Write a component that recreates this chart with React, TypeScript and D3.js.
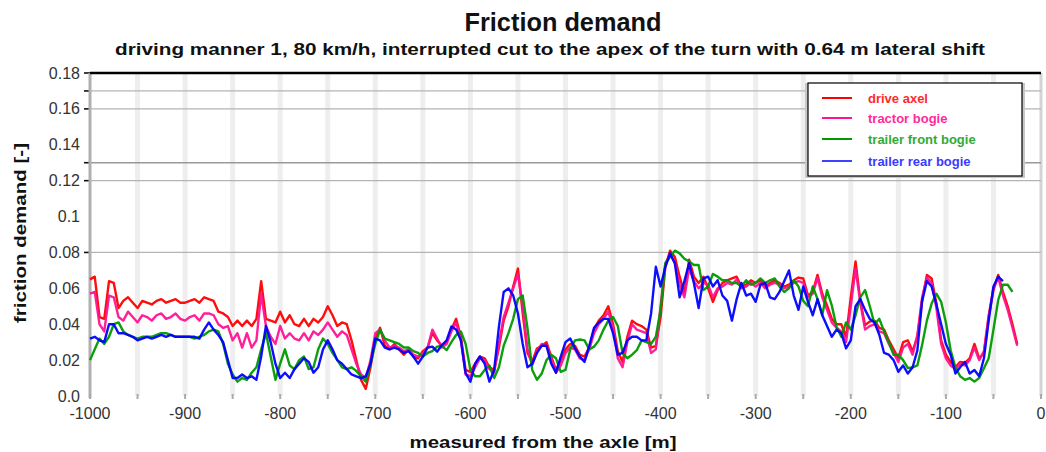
import React from "react";
import * as d3 from "d3";

const distance: number[] = d3.range(-1000, -20, 5);

const driveAxel: number[] = [
  0.065, 0.0665, 0.044, 0.043, 0.064, 0.063, 0.049, 0.053, 0.055, 0.052,
  0.049, 0.053, 0.052, 0.051, 0.053, 0.054, 0.052, 0.053, 0.054, 0.052,
  0.052, 0.053, 0.054, 0.052, 0.055, 0.054, 0.053, 0.047, 0.046, 0.044,
  0.039, 0.042, 0.039, 0.042, 0.039, 0.043, 0.064, 0.043, 0.042, 0.041,
  0.047, 0.041, 0.045, 0.040, 0.039, 0.043, 0.039, 0.043, 0.041, 0.044,
  0.050, 0.045, 0.039, 0.041, 0.040, 0.031, 0.020, 0.009, 0.004, 0.016,
  0.032, 0.038, 0.028, 0.026, 0.029, 0.026, 0.023, 0.026, 0.022, 0.021,
  0.025, 0.027,
  0.035, 0.031, 0.028, 0.030, 0.037, 0.043, 0.033, 0.0145, 0.0135, 0.018,
  0.022, 0.021, 0.016, 0.0145, 0.027, 0.042, 0.050, 0.061, 0.071, 0.046,
  0.024, 0.019, 0.0265, 0.028, 0.030, 0.022, 0.0145, 0.019, 0.026, 0.029,
  0.028, 0.023, 0.022, 0.027, 0.037, 0.042, 0.045, 0.050, 0.040, 0.025,
  0.019, 0.033, 0.042, 0.040, 0.039, 0.037, 0.027, 0.028, 0.044, 0.072,
  0.081, 0.0775, 0.0665, 0.057, 0.076, 0.0665, 0.063, 0.0665, 0.060, 0.0525,
  0.059, 0.063, 0.0645, 0.0655, 0.0665, 0.061, 0.062, 0.0645, 0.063,
  0.0645, 0.061, 0.063, 0.0645, 0.063, 0.061, 0.062, 0.0645, 0.066, 0.0655,
  0.056, 0.058, 0.0675, 0.057, 0.0505, 0.043, 0.040, 0.040, 0.033, 0.055,
  0.075, 0.053, 0.0395, 0.0415, 0.042, 0.038, 0.037, 0.031, 0.026, 0.021,
  0.030, 0.031, 0.025, 0.033, 0.053, 0.0675, 0.0655, 0.0515, 0.031, 0.023,
  0.019, 0.016, 0.019, 0.0185, 0.021, 0.029, 0.021, 0.024, 0.044, 0.059,
  0.0675, 0.058, 0.050, 0.040, 0.029,
];

const tractorBogie: number[] = [
  0.057, 0.058, 0.040, 0.036, 0.056, 0.055, 0.044, 0.042, 0.047, 0.044,
  0.041, 0.045, 0.044, 0.042, 0.045, 0.046, 0.043, 0.044, 0.046, 0.043,
  0.042, 0.044, 0.045, 0.042, 0.046, 0.046, 0.045, 0.040, 0.038, 0.039,
  0.031, 0.035, 0.027, 0.035, 0.027, 0.031, 0.057, 0.039, 0.033, 0.029,
  0.039, 0.032, 0.035, 0.032, 0.031, 0.035, 0.031, 0.036, 0.034, 0.037,
  0.041, 0.037, 0.033, 0.036, 0.034, 0.026, 0.018, 0.012, 0.010, 0.020,
  0.035, 0.037, 0.031, 0.027, 0.028, 0.027, 0.025, 0.026, 0.023, 0.022,
  0.024, 0.027,
  0.037, 0.032, 0.027, 0.029, 0.036, 0.041, 0.031, 0.012, 0.011, 0.016,
  0.021, 0.020, 0.015, 0.013, 0.029, 0.044, 0.052, 0.060, 0.068, 0.050,
  0.026, 0.017, 0.025, 0.029, 0.028, 0.021, 0.013, 0.017, 0.024, 0.027,
  0.026, 0.021, 0.020, 0.026, 0.035, 0.040, 0.043, 0.047, 0.038, 0.021,
  0.016, 0.030, 0.040, 0.037, 0.036, 0.035, 0.024, 0.026, 0.050, 0.074,
  0.079, 0.074, 0.062, 0.055, 0.071, 0.064, 0.060, 0.063, 0.062, 0.055,
  0.060, 0.061, 0.063, 0.062, 0.065, 0.060, 0.061, 0.063, 0.061,
  0.063, 0.060, 0.062, 0.063, 0.062, 0.060, 0.061, 0.063, 0.064, 0.063,
  0.055, 0.057, 0.066, 0.055, 0.048, 0.041, 0.038, 0.036, 0.030, 0.050,
  0.071, 0.052, 0.037, 0.039, 0.040, 0.036, 0.035, 0.029, 0.024, 0.019,
  0.027, 0.029, 0.023, 0.034, 0.055, 0.066, 0.063, 0.049, 0.029, 0.021,
  0.017, 0.015, 0.018, 0.017, 0.020, 0.027, 0.020, 0.025, 0.045, 0.060,
  0.066, 0.056, 0.048, 0.038, 0.028,
];

const trailerFrontBogie: number[] = [
  0.020, 0.026, 0.032, 0.029, 0.033, 0.040, 0.041, 0.036, 0.034, 0.033,
  0.032, 0.033, 0.033, 0.033, 0.034, 0.035, 0.035, 0.034, 0.033, 0.033,
  0.033, 0.033, 0.032, 0.033, 0.034, 0.036, 0.037, 0.036, 0.029, 0.018,
  0.012, 0.008, 0.010, 0.009, 0.013, 0.016, 0.026, 0.035, 0.022, 0.009,
  0.018, 0.026, 0.017, 0.015, 0.020, 0.022, 0.015, 0.016, 0.026, 0.032,
  0.029, 0.024, 0.020, 0.016, 0.015, 0.016, 0.014, 0.011, 0.008, 0.018,
  0.029, 0.037, 0.032, 0.031, 0.030, 0.029, 0.027, 0.027, 0.025, 0.024,
  0.022, 0.024,
  0.025, 0.0275, 0.028, 0.0255, 0.030, 0.034, 0.036, 0.029, 0.0145, 0.011,
  0.011, 0.0145, 0.017, 0.010, 0.016, 0.028, 0.035, 0.043, 0.054, 0.056,
  0.038, 0.0145, 0.009, 0.0125, 0.020, 0.023, 0.021, 0.0135, 0.0145, 0.026,
  0.031, 0.0315, 0.031, 0.026, 0.0275, 0.031, 0.037, 0.042, 0.044, 0.039,
  0.024, 0.021, 0.023, 0.0255, 0.031, 0.030, 0.029, 0.033, 0.048, 0.074,
  0.0775, 0.081, 0.0795, 0.0765, 0.075, 0.073, 0.073, 0.059, 0.061, 0.068,
  0.0665, 0.0645, 0.0645, 0.063, 0.063, 0.061, 0.0645, 0.062, 0.063,
  0.0655, 0.063, 0.0645, 0.0655, 0.061, 0.058, 0.060, 0.0645, 0.061, 0.053,
  0.050, 0.061, 0.054, 0.045, 0.059, 0.0505, 0.0385, 0.033, 0.041, 0.037,
  0.045, 0.055, 0.059, 0.050, 0.040, 0.043, 0.036, 0.030, 0.023, 0.023,
  0.020, 0.0155, 0.016, 0.017, 0.0285, 0.042, 0.0515, 0.057, 0.0525, 0.041,
  0.0255, 0.016, 0.011, 0.009, 0.010, 0.008, 0.010, 0.0155, 0.021, 0.037,
  0.0535, 0.062, 0.062, 0.058,
];

const trailerRearBogie: number[] = [
  0.032, 0.033, 0.031, 0.030, 0.040, 0.040, 0.035, 0.035, 0.034, 0.033,
  0.031, 0.032, 0.033, 0.032, 0.033, 0.034, 0.033, 0.034, 0.033, 0.033,
  0.033, 0.033, 0.033, 0.032, 0.037, 0.041, 0.037, 0.034, 0.030, 0.020,
  0.010, 0.010, 0.012, 0.010, 0.011, 0.009, 0.022, 0.039, 0.030, 0.018,
  0.010, 0.013, 0.010, 0.015, 0.018, 0.021, 0.019, 0.013, 0.016, 0.026,
  0.031, 0.026, 0.020, 0.018, 0.015, 0.012, 0.011, 0.010, 0.011, 0.018,
  0.032, 0.031, 0.027, 0.026, 0.027, 0.026, 0.024, 0.025, 0.022, 0.018,
  0.022, 0.027,
  0.0275, 0.0247, 0.0284, 0.031, 0.0387, 0.037, 0.031, 0.0127, 0.008, 0.018,
  0.022, 0.018, 0.008, 0.0145, 0.0387, 0.058, 0.060, 0.056, 0.046, 0.029,
  0.016, 0.018, 0.024, 0.028, 0.028, 0.018, 0.013, 0.022, 0.030, 0.032,
  0.0265, 0.022, 0.019, 0.028, 0.038, 0.041, 0.043, 0.043, 0.035, 0.023,
  0.024, 0.031, 0.033, 0.033, 0.031, 0.031, 0.046, 0.072, 0.061, 0.072,
  0.0795, 0.074, 0.055, 0.064, 0.074, 0.063, 0.049, 0.0655, 0.0665, 0.061,
  0.0645, 0.056, 0.053, 0.042, 0.054, 0.063, 0.056, 0.057, 0.0525,
  0.062, 0.063, 0.055, 0.054, 0.058, 0.064, 0.070, 0.056, 0.048, 0.061,
  0.0525, 0.045, 0.054, 0.045, 0.039, 0.033, 0.037, 0.035, 0.0265, 0.031,
  0.050, 0.054, 0.048, 0.043, 0.041, 0.034, 0.024, 0.023, 0.020, 0.0135,
  0.017, 0.0125, 0.016, 0.0255, 0.053, 0.064, 0.061, 0.051, 0.040, 0.029,
  0.023, 0.0125, 0.016, 0.019, 0.0125, 0.0145, 0.011, 0.021, 0.042, 0.061,
  0.0665, 0.064,
];

const seriesNames: string[] = ["drive axel", "tractor bogie", "trailer front bogie", "trailer rear bogie"];
const seriesColors: string[] = ["#ff0000", "#ff1493", "#009900", "#0000ff"];
const legendTextColors: string[] = ["#ff2a2a", "#ff2a9a", "#33aa33", "#3a3aff"];
const seriesValues: number[][] = [driveAxel, tractorBogie, trailerFrontBogie, trailerRearBogie];

const yTickValues: number[] = [0.18, 0.16, 0.14, 0.12, 0.1, 0.08, 0.06, 0.04, 0.02, 0.0];
const yTickLabels: string[] = ["0.18", "0.16", "0.14", "0.12", "0.1", "0.08", "0.06", "0.04", "0.02", "0.0"];
const yGridValues: number[] = [0.17, 0.16, 0.13, 0.12, 0.08];
const xTickValues: number[] = [-1000, -900, -800, -700, -600, -500, -400, -300, -200, -100, 0];
const xMinorValues: number[] = d3.range(-1000, 1, 50);

const titleText = "Friction demand";
const subtitleText = "driving manner 1, 80 km/h, interrupted cut to the apex of the turn with 0.64 m lateral shift";
const xAxisTitle = "measured from the axle [m]";
const yAxisTitle = "friction demand [-]";

const W = 1046;
const H = 452;
const FONT = "'Liberation Sans', Arial, Helvetica, sans-serif";

export default function App() {
  const x = d3.scaleLinear().domain([-1000, 0]).range([90, 1041]);
  const y = d3.scaleLinear().domain([0, 0.18]).range([396, 73]);

  const line = d3
    .line<[number, number]>()
    .x((d) => x(d[0]))
    .y((d) => y(d[1]));

  const legendX = 808;
  const legendY = 83;
  const legendW = 214;
  const legendH = 93;
  const legendRowY = [98, 118, 139, 161];

  return (
    <svg
      width={W}
      height={H}
      viewBox={`0 0 ${W} ${H}`}
      style={{ position: "absolute", left: 0, top: 0, background: "#fff" }}
      fontFamily={FONT}
    >
      <rect x={0} y={0} width={W} height={H} fill="#fff" />

      <text x={563} y={31} textAnchor="middle" fontSize={25} fontWeight="bold" fill="#111"
        textLength={197} lengthAdjust="spacingAndGlyphs">
        {titleText}
      </text>
      <text x={550} y={55} textAnchor="middle" fontSize={16} fontWeight="bold" fill="#111"
        textLength={870} lengthAdjust="spacingAndGlyphs">
        {subtitleText}
      </text>

      {xMinorValues
        .filter((v) => v > -1000 && v < 0)
        .map((v) => (
          <line key={"vb" + v} x1={x(v)} x2={x(v)} y1={y(0.18)} y2={y(0)} stroke="#eeeeee" strokeWidth={5} />
        ))}
      <line x1={x(0)} x2={x(0)} y1={y(0.18)} y2={y(0)} stroke="#d4d4d4" strokeWidth={3} />

      {yGridValues.map((v) => (
        <line key={"hg" + v} x1={x(-1000)} x2={x(0)} y1={y(v)} y2={y(v)}
          stroke={v === 0.13 ? "#999" : "#b4b4b4"} strokeWidth={v === 0.13 ? 1.6 : 1.2} />
      ))}
      {[0.18, ...yGridValues].map((v) => (
        <line key={"yt" + v} x1={x(-1000) - 6} x2={x(-1000)} y1={y(v)} y2={y(v)} stroke="#111" strokeWidth={1.6} />
      ))}

      <line x1={x(-1000)} x2={x(-1000)} y1={y(0.18)} y2={y(0) + 2} stroke="#b0b0b0" strokeWidth={3} />
      <line x1={x(-1000)} x2={x(0)} y1={y(0.18)} y2={y(0.18)} stroke="#000" strokeWidth={2.4} />

      {xMinorValues.map((v) => (
        <line key={"xt" + v} x1={x(v)} x2={x(v)} y1={y(0) - 2} y2={y(0) + 3} stroke="#aaa" strokeWidth={2} />
      ))}

      {yTickValues.map((v, i) => (
        <text key={"yl" + v} x={80} y={y(v) + 5.5} textAnchor="end" fontSize={16} fill="#333">
          {yTickLabels[i]}
        </text>
      ))}

      {xTickValues.map((v) => (
        <text key={"xl" + v} x={x(v)} y={419} textAnchor="middle" fontSize={16} fill="#333">
          {String(v)}
        </text>
      ))}

      <text x={543} y={448} textAnchor="middle" fontSize={16} fontWeight="bold" fill="#111"
        textLength={267} lengthAdjust="spacingAndGlyphs">
        {xAxisTitle}
      </text>
      <text transform={`translate(26, 233) rotate(-90)`} textAnchor="middle" fontSize={17} fontWeight="bold" fill="#111"
        textLength={180} lengthAdjust="spacingAndGlyphs">
        {yAxisTitle}
      </text>

      {seriesValues.map((vals, si) => {
        const pts: [number, number][] = vals.map((v, i) => [distance[i], v]);
        return (
          <path key={"s" + si} d={line(pts) || ""} fill="none" stroke={seriesColors[si]}
            strokeWidth={2.4} strokeLinejoin="round" strokeOpacity={0.95} />
        );
      })}

      <rect x={legendX - 3} y={legendY} width={legendW + 6} height={legendH + 2} fill="#c8c8c8" />
      <rect x={legendX} y={legendY} width={legendW} height={legendH} fill="#fff" stroke="#000" strokeWidth={1.2} />
      {seriesNames.map((name, i) => (
        <g key={"lg" + i}>
          <line x1={822} x2={852} y1={legendRowY[i]} y2={legendRowY[i]} stroke={seriesColors[i]}
            strokeWidth={i === 3 ? 1.5 : 2} />
          <text x={868} y={legendRowY[i] + 4.5} fontSize={13} fontWeight="bold" fill={legendTextColors[i]}>
            {name}
          </text>
        </g>
      ))}
    </svg>
  );
}
